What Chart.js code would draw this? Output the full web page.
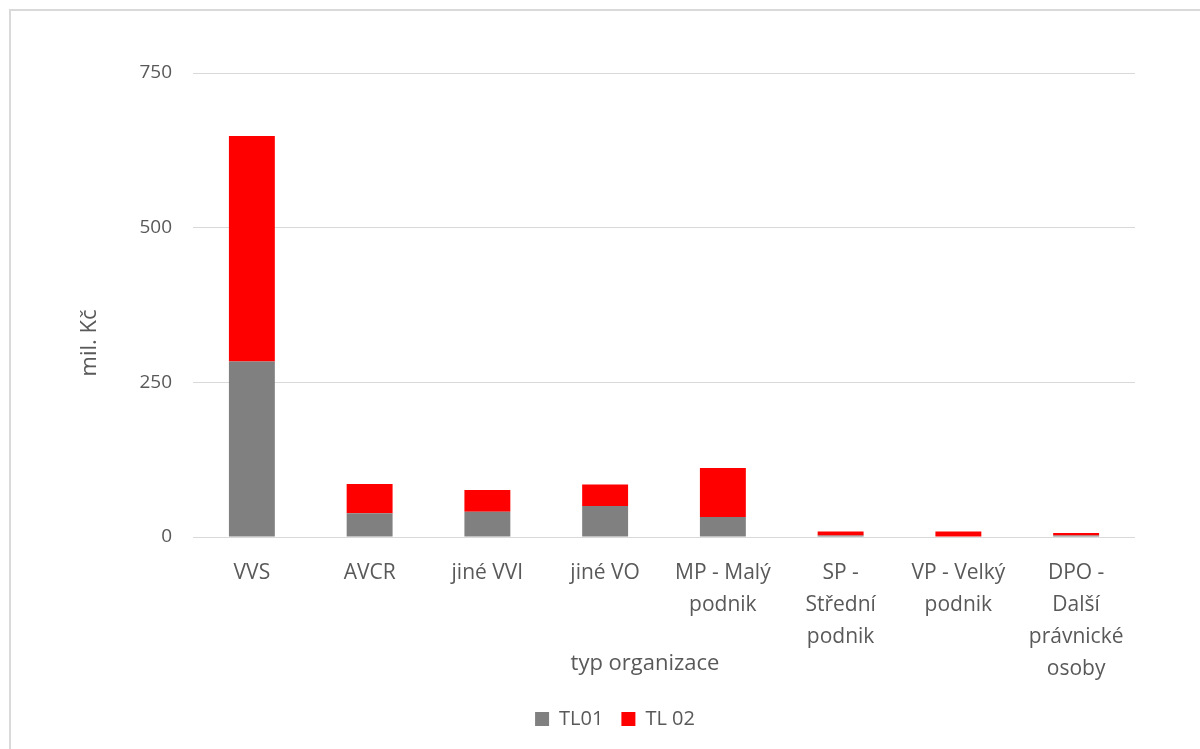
<!DOCTYPE html>
<html>
<head>
<meta charset="utf-8">
<script src="https://cdn.jsdelivr.net/npm/chart.js@4"></script>
<style>
    html, body { margin: 0; padding: 0; background: #fff; overflow: hidden; }
    #frame {
        position: absolute; left: 9px; top: 9px; width: 1300px; height: 900px;
        border-left: 2px solid #d9d9d9; border-top: 2px solid #d9d9d9;
    }
    #wrap { position: absolute; left: 0; top: 0; width: 1200px; height: 749px; }
</style>
</head>
<body>
<div id="frame"></div>
<div id="wrap"><canvas id="chart"></canvas></div>
<script>
// categories (multi-line labels as in the source)
const categories = [
    ['VVS'],
    ['AVCR'],
    ['jiné VVI'],
    ['jiné VO'],
    ['MP - Malý', 'podnik'],
    ['SP -', 'Střední', 'podnik'],
    ['VP - Velký', 'podnik'],
    ['DPO -', 'Další', 'právnické', 'osoby']
];
const tl01 = [283.5, 38.5, 41, 50, 32.5, 2.5, 1, 2.5];
const tl02 = [364.5, 47, 35, 35, 79, 6.5, 8, 4];
const yTicks = [0, 250, 500, 750];

const textColor = '#595959';
const fontFamily = '"Open Sans", "Liberation Sans", sans-serif';

// axis titles drawn by hand so they sit where Excel put them
const axisTitles = {
    id: 'axisTitles',
    afterDraw(chart) {
        const { ctx, chartArea } = chart;
        ctx.save();
        ctx.fillStyle = textColor;
        ctx.textAlign = 'center';
        ctx.textBaseline = 'middle';
        ctx.font = '22px ' + fontFamily;
        // y title
        ctx.save();
        ctx.translate(chartArea.left - 103, (chartArea.top + chartArea.bottom) / 2 + 38);
        ctx.rotate(-Math.PI / 2);
        ctx.fillText('mil. Kč', 0, 0);
        ctx.restore();
        // x title
        ctx.fillText('typ organizace', chartArea.left + 452, chartArea.bottom + 127);
        ctx.restore();
    }
};

const ctx = document.getElementById('chart');
new Chart(ctx, {
    type: 'bar',
    data: {
        labels: categories,
        datasets: [{
            label: 'TL01',
            data: tl01,
            backgroundColor: '#808080',
            barPercentage: 0.39,
            categoryPercentage: 1
        }, {
            label: 'TL 02',
            data: tl02,
            backgroundColor: '#ff0000',
            barPercentage: 0.39,
            categoryPercentage: 1
        }]
    },
    options: {
        responsive: true,
        maintainAspectRatio: false,
        animation: false,
        layout: {
            padding: { left: 95, right: 65, top: 73, bottom: 10 }
        },
        plugins: {
            legend: {
                position: 'bottom',
                labels: {
                    boxWidth: 14,
                    boxHeight: 14,
                    padding: 18,
                    color: textColor,
                    font: { family: fontFamily, size: 20 }
                }
            },
            tooltip: { enabled: false }
        },
        scales: {
            x: {
                stacked: true,
                grid: { display: false, drawTicks: false },
                border: { display: false },
                ticks: {
                    color: textColor,
                    padding: 20,
                    maxRotation: 0,
                    autoSkip: false,
                    font: { family: fontFamily, size: 21, lineHeight: '32px' }
                },
                afterFit(scale) { scale.height = 154; }
            },
            y: {
                stacked: true,
                min: 0,
                max: 750,
                afterBuildTicks(scale) { scale.ticks = yTicks.map(v => ({ value: v })); },
                grid: { color: '#d9d9d9', lineWidth: 1, drawTicks: false },
                border: { display: false },
                ticks: {
                    color: textColor,
                    padding: 21,
                    font: { family: fontFamily, size: 19 }
                },
                afterFit(scale) { scale.width = 98; }
            }
        }
    },
    plugins: [axisTitles]
});
</script>
</body>
</html>
